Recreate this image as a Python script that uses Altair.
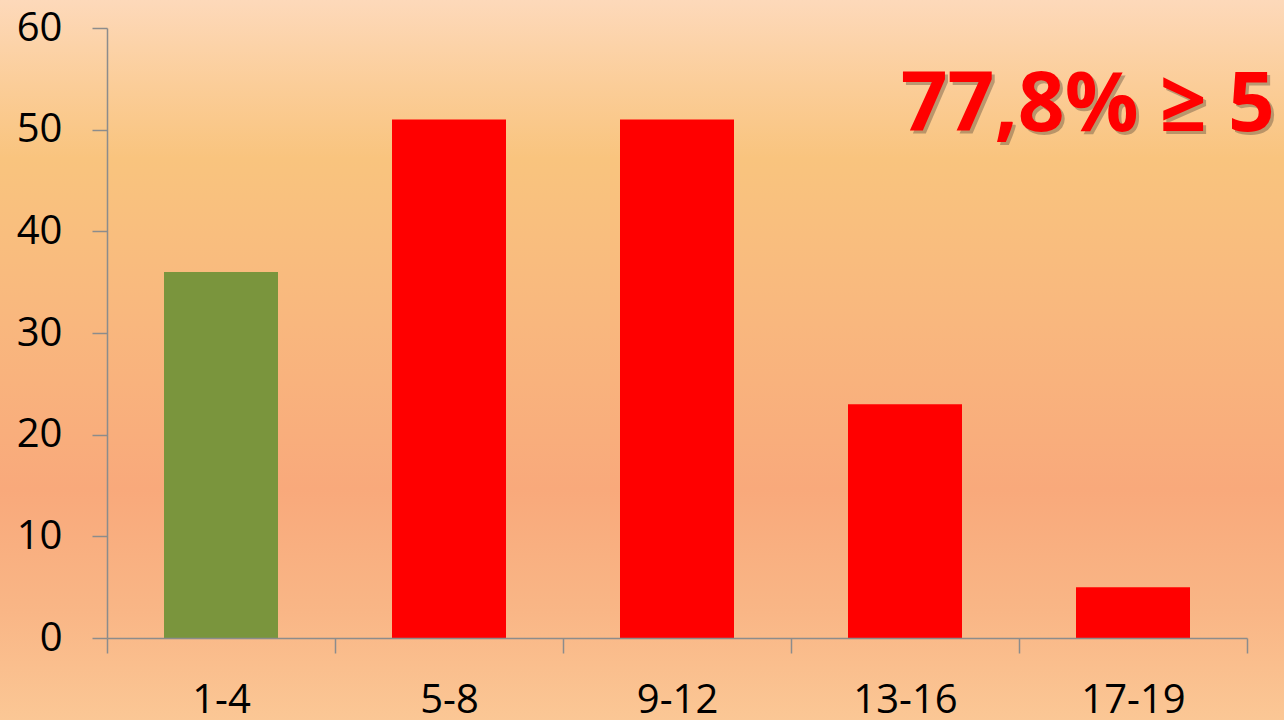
import altair as alt
import pandas as pd

# ---- data ----
categories = ["1-4", "5-8", "9-12", "13-16", "17-19"]
values = [36, 51, 51, 23, 5]
bar_colors = ["#7a953d", "#ff0000", "#ff0000", "#ff0000", "#ff0000"]
y_ticks = [0, 10, 20, 30, 40, 50, 60]
annotation = "77,8% ≥ 5"

df = pd.DataFrame({"cat": categories, "val": values, "color": bar_colors})

W, H = 1140, 610
PL, PT, PR, PB = 107, 28, 37, 82
FONT = "Open Sans"
AXIS_GREY = "#8c8c8c"

gradient = alt.LinearGradient(
    gradient="linear",
    x1=0, x2=0, y1=0, y2=1,
    stops=[
        alt.GradientStop(offset=0.0, color="#fdd9ba"),
        alt.GradientStop(offset=0.12, color="#fbcd98"),
        alt.GradientStop(offset=0.22, color="#f9c47e"),
        alt.GradientStop(offset=0.45, color="#f9b77e"),
        alt.GradientStop(offset=0.68, color="#f9a97b"),
        alt.GradientStop(offset=0.85, color="#f9b686"),
        alt.GradientStop(offset=1.0, color="#fbc795"),
    ],
)

bg = alt.Chart(alt.Data(values=[{}])).mark_rect(fill=gradient).encode(
    x=alt.value(-PL), x2=alt.value(1284 - PL),
    y=alt.value(-PT), y2=alt.value(720 - PT),
)

bars = alt.Chart(df).mark_bar(width=alt.RelativeBandSize(0.5)).encode(
    x=alt.X(
        "cat:N",
        sort=categories,
        scale=alt.Scale(paddingInner=0, paddingOuter=0),
        axis=alt.Axis(
            title=None, labelAngle=0, tickBand="extent",
            labelFont=FONT, labelFontSize=40, labelColor="black",
            labelPadding=27, tickSize=15, tickColor=AXIS_GREY, tickWidth=1.5,
            domainColor=AXIS_GREY, domainWidth=1.5, grid=False, zindex=1,
        ),
    ),
    y=alt.Y(
        "val:Q",
        scale=alt.Scale(domain=[0, 60], nice=False),
        axis=alt.Axis(
            title=None, values=y_ticks,
            labelFont=FONT, labelFontSize=40, labelColor="black",
            labelPadding=30, tickSize=15, tickColor=AXIS_GREY, tickWidth=1.5,
            domainColor=AXIS_GREY, domainWidth=1.5, grid=False, zindex=1,
        ),
    ),
    color=alt.Color("color:N", scale=None, legend=None),
)

ann_df = alt.Data(values=[{"t": annotation}])
shadow = alt.Chart(ann_df).mark_text(
    font=FONT, fontSize=82, fontWeight="bold", align="right", baseline="alphabetic",
    color="#5a4a3a", opacity=0.4,
).encode(text="t:N", x=alt.value(1168 + 3), y=alt.value(103 + 3))

label = alt.Chart(ann_df).mark_text(
    font=FONT, fontSize=82, fontWeight="bold", align="right", baseline="alphabetic",
    color="#ff0000",
).encode(text="t:N", x=alt.value(1168), y=alt.value(103))

chart = alt.layer(bg, bars, shadow, label).properties(
    width=W, height=H,
    autosize=alt.AutoSizeParams(type="none"),
    padding={"left": PL, "top": PT, "right": PR, "bottom": PB},
).configure_view(stroke=None).configure(background="#fbc795")

chart.save("out.html", embed_options={"renderer": "svg", "actions": False})
